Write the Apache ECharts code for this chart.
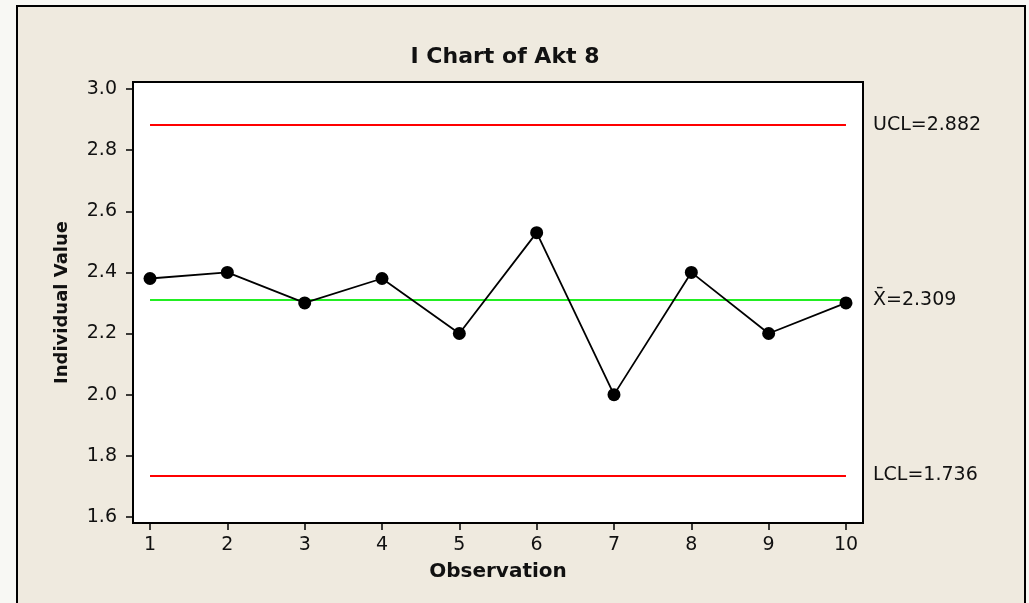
<!DOCTYPE html>
<html>
<head>
    <meta charset="utf-8" />
    <title>I Chart of Akt 8</title>
    <script src="https://cdn.jsdelivr.net/npm/echarts@6.0.0/dist/echarts.min.js"></script>
    <style>
        body { margin: 0; background: #f8f8f4; }
    </style>
</head>
<body>
    <div id="main" style="width: 1029px;height:603px;"></div>
    <script type="text/javascript">
        // observation numbers and individual values
        var observations = [1, 2, 3, 4, 5, 6, 7, 8, 9, 10];
        var values = [2.38, 2.40, 2.30, 2.38, 2.20, 2.53, 2.00, 2.40, 2.20, 2.30];
        // control limits
        var ucl = 2.882;
        var centerLine = 2.309;
        var lcl = 1.736;
        var yTicks = [1.6, 1.8, 2.0, 2.2, 2.4, 2.6, 2.8, 3.0];

        var myChart = echarts.init(document.getElementById('main'));

        var font = 'Verdana, "DejaVu Sans", sans-serif';
        var points = observations.map(function (o, i) { return [o, values[i]]; });
        var first = observations[0];
        var last = observations[observations.length - 1];

        function limitLine(val, color, text) {
            return [
                { coord: [first, val], lineStyle: { color: color, width: 2, type: 'solid', opacity: 1 },
                  label: { show: true, position: 'end', formatter: text, color: '#111',
                           fontSize: 19, fontFamily: font, distance: 27 } },
                { coord: [last, val] }
            ];
        }

        var option = {
            animation: false,
            backgroundColor: '#f8f8f4',
            graphic: [{
                type: 'rect',
                z: -10,
                shape: { x: 17, y: 6, width: 1008, height: 620 },
                style: { fill: '#efeadf', stroke: '#000', lineWidth: 2 }
            }],
            title: {
                text: 'I Chart of Akt 8',
                left: 500,
                textAlign: 'center',
                top: 41,
                textStyle: { fontFamily: font, fontWeight: 'bold', fontSize: 22, color: '#111' }
            },
            grid: {
                left: 133, top: 82, right: 166, bottom: 80,
                show: true, backgroundColor: '#ffffff', borderColor: '#000', borderWidth: 2
            },
            xAxis: {
                type: 'value',
                min: 0.78, max: 10.22,
                name: 'Observation',
                nameLocation: 'middle',
                nameGap: 39,
                nameTextStyle: { fontFamily: font, fontWeight: 'bold', fontSize: 20, color: '#111' },
                axisLine: { show: true, lineStyle: { color: '#000', width: 2 } },
                axisTick: { show: true, length: 7, lineStyle: { color: '#000', width: 1.5 },
                            customValues: observations },
                axisLabel: { fontFamily: font, fontSize: 19, color: '#111', margin: 13,
                             customValues: observations, showMinLabel: true, showMaxLabel: true },
                splitLine: { show: false }
            },
            yAxis: {
                type: 'value',
                min: 1.58, max: 3.023,
                name: 'Individual Value',
                nameLocation: 'middle',
                nameGap: 62,
                nameTextStyle: { fontFamily: font, fontWeight: 'bold', fontSize: 18, color: '#111' },
                axisLine: { show: true, lineStyle: { color: '#000', width: 2 } },
                axisTick: { show: true, length: 7, lineStyle: { color: '#000', width: 1.5 },
                            customValues: yTicks },
                axisLabel: { fontFamily: font, fontSize: 19, color: '#111', margin: 16,
                             customValues: yTicks,
                             formatter: function (v) { return v.toFixed(1); } },
                splitLine: { show: false }
            },
            series: [
                {
                    name: 'limits',
                    type: 'line',
                    data: [],
                    markLine: {
                        silent: true,
                        symbol: ['none', 'none'],
                        data: [
                            limitLine(ucl, '#ff0000', 'UCL=' + ucl.toFixed(3)),
                            limitLine(centerLine, '#22ee22', 'X\u0304=' + centerLine.toFixed(3)),
                            limitLine(lcl, '#ff0000', 'LCL=' + lcl.toFixed(3))
                        ]
                    }
                },
                {
                    name: 'Individual Value',
                    type: 'line',
                    data: points,
                    symbol: 'circle',
                    symbolSize: 13,
                    itemStyle: { color: '#000' },
                    lineStyle: { color: '#000', width: 1.8 },
                    z: 5
                }
            ]
        };

        myChart.setOption(option);
    </script>
</body>
</html>
